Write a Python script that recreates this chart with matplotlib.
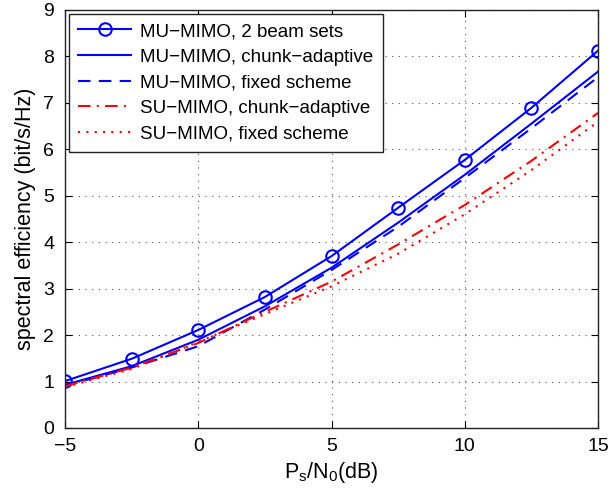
import matplotlib
matplotlib.use("Agg")
import matplotlib.pyplot as plt

snr = [-5, -2.5, 0, 2.5, 5, 7.5, 10, 12.5, 15]
mu_2beam = [1.01, 1.49, 2.11, 2.82, 3.70, 4.74, 5.77, 6.89, 8.12]
mu_chunk = [0.93, 1.33, 1.90, 2.62, 3.45, 4.42, 5.45, 6.55, 7.67]
mu_fixed = [0.91, 1.30, 1.76, 2.55, 3.40, 4.33, 5.38, 6.45, 7.55]
su_chunk = [0.90, 1.30, 1.83, 2.50, 3.15, 3.95, 4.80, 5.75, 6.78]
su_fixed = [0.88, 1.27, 1.85, 2.45, 3.05, 3.75, 4.60, 5.55, 6.59]
labels = ["MU\u2212MIMO, 2 beam sets", "MU\u2212MIMO, chunk\u2212adaptive",
          "MU\u2212MIMO, fixed scheme", "SU\u2212MIMO, chunk\u2212adaptive",
          "SU\u2212MIMO, fixed scheme"]

plt.rcParams['font.family'] = ['Liberation Sans', 'DejaVu Sans']
fig = plt.figure(figsize=(6.09, 4.88), dpi=100)
ax = fig.add_axes([0.107, 0.123, 0.875, 0.857])

blue = '#0000ff'
red = '#ff0000'
ax.plot(snr, mu_2beam, '-', color=blue, lw=1.5, marker='o', ms=9, mfc='none', mew=1.5, label=labels[0])
ax.plot(snr, mu_chunk, '-', color=blue, lw=1.5, label=labels[1])
ax.plot(snr, mu_fixed, '--', color=blue, lw=1.5, dashes=(6, 4), label=labels[2])
ax.plot(snr, su_chunk, '-.', color=red, lw=1.5, dashes=(6, 3, 1, 3), label=labels[3])
ax.plot(snr, su_fixed, ':', color=red, lw=1.5, dashes=(1, 3), label=labels[4])

ax.set_xlim(-5, 15)
ax.set_ylim(0, 9)
ax.set_xticks([-5, 0, 5, 10, 15])
ax.set_xticklabels(['\u22125', '0', '5', '10', '15'])
ax.set_yticks(range(0, 10))
ax.tick_params(direction='in', labelsize=14, length=5, top=True, right=True)
ax.tick_params(axis='y', pad=8)
ax.tick_params(axis='x', pad=7)
ax.grid(True, linestyle=(0, (1, 5)), color='#555555', lw=0.8)
for s in ax.spines.values():
    s.set_linewidth(1.0)
    s.set_color('#222222')

ax.set_xlabel(r'$\mathregular{P_s/N_0}$(dB)', fontsize=15.5, labelpad=4)
ax.set_ylabel('spectral efficiency (bit/s/Hz)', fontsize=15.5, labelpad=5)

leg = ax.legend(loc='upper left', fontsize=13.5, frameon=True, fancybox=False,
                edgecolor='#222222', framealpha=1, borderaxespad=0.2,
                handlelength=2.8, handletextpad=0.5, labelspacing=0.45, borderpad=0.5)
leg.get_frame().set_linewidth(1.0)

fig.savefig('out.png', dpi=100)
